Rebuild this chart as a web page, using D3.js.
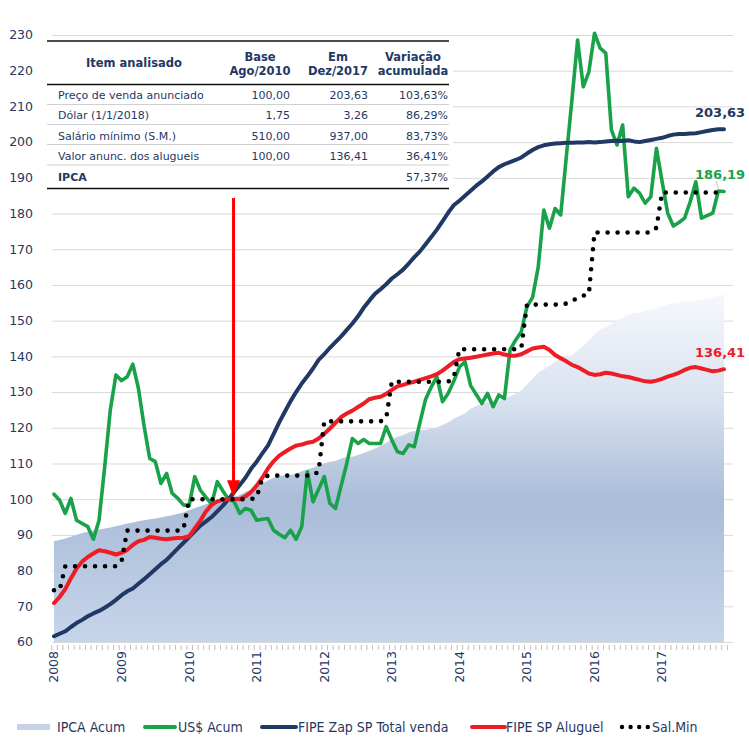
<!DOCTYPE html>
<html><head><meta charset="utf-8">
<script src="https://cdn.jsdelivr.net/npm/d3@7"></script>
<style>body{margin:0;background:#fff}svg{display:block}</style>
</head><body>
<svg id="chart" width="749" height="746"></svg>
<script>
// ---------- DATA ----------
const yearLabels = ["2008","2009","2010","2011","2012","2013","2014","2015","2016","2017"];
const yTicks = [60,70,80,90,100,110,120,130,140,150,160,170,180,190,200,210,220,230];

// monthly, Jan 2008 .. Dec 2017 (120 values)
const ipcaAcum = [
88.2,88.6,89.0,89.5,90.0,90.5,90.9,91.2,91.5,91.8,92.1,92.4,
92.8,93.2,93.5,93.8,94.1,94.4,94.6,94.9,95.2,95.5,95.9,96.3,
96.9,97.5,98.0,98.6,99.1,99.5,99.8,100.0,100.45,101.2,102.0,102.7,
103.5,104.4,105.2,106.0,106.5,106.7,106.8,107.2,107.8,108.3,108.8,109.4,
110.0,110.5,110.7,111.4,111.8,111.9,112.4,112.9,113.5,114.2,114.9,115.8,
116.8,117.5,118.0,118.7,119.1,119.4,119.4,119.7,120.1,120.8,121.5,122.6,
123.3,124.1,125.3,126.1,126.7,127.2,127.2,127.5,128.3,128.8,129.5,130.5,
132.1,133.7,135.5,136.4,137.4,138.5,139.4,139.7,140.4,141.6,143.0,144.4,
146.2,147.5,148.2,149.1,150.2,150.8,151.5,152.2,152.3,152.7,153.0,153.4,
154.0,154.5,154.9,155.1,155.6,155.2,155.6,155.9,156.1,156.5,156.9,157.37];

const usdAcum = [
101.4,99.7,96.0,100.2,94.1,93.2,92.3,88.8,94.1,109,125,134.8,
133.2,134.3,137.8,131,120.5,111.4,110.5,104.4,107.2,101.6,100.2,98.4,
98.2,106.3,102.5,100.5,98.6,104.9,102.3,100,99.3,96,97.4,96.9,
94.1,94.4,94.6,91.3,90.2,89.2,91.3,88.8,92.3,107.7,99.3,102.8,
106.3,98.8,97.4,103.8,110,117,115.6,116.7,115.6,115.6,115.6,120.3,
116.6,113.3,112.8,115.2,114.7,121.5,128,131.4,134.3,127.3,129.6,133,
137,138.5,131.8,129.3,126.8,129.6,125.9,129.2,128.2,141.8,144.6,146.9,
153.9,156.5,165,181,175.9,181.4,179.6,196,212,228.6,215.5,219.7,
230.5,226.3,224.9,203.4,199.2,204.8,184.7,187.1,185.7,182.9,184.7,198.3,
189,180.1,176.5,177.5,178.7,183.3,188.9,178.7,179.4,180.1,186.3,186.19];

const fipeZapVenda = [
61.6,62.3,63.0,64.2,65.3,66.2,67.2,68.0,68.7,69.6,70.6,71.8,
73.1,74.2,75.0,76.3,77.6,79.0,80.4,81.8,83.0,84.6,86.2,87.8,
89.4,91.0,92.6,93.8,95.0,96.6,98.2,100.0,102.0,104.0,106.0,108.5,
110.5,112.8,115.0,118.2,121.5,124.5,127.4,130.0,132.4,134.4,136.6,139.0,
140.6,142.4,144.0,145.6,147.4,149.2,151.2,153.6,155.6,157.5,158.8,160.2,
161.8,163.0,164.3,166.0,167.8,169.4,171.4,173.4,175.5,177.8,180.2,182.3,
183.6,185.0,186.4,187.8,189.0,190.4,191.8,193.0,193.8,194.4,195.0,195.7,
196.8,197.8,198.6,199.1,199.4,199.6,199.7,199.8,199.8,199.9,199.9,200.0,
199.9,200.0,200.2,200.3,200.4,200.3,200.5,200.2,200.0,200.3,200.6,200.9,
201.2,201.7,202.1,202.3,202.3,202.4,202.5,202.8,203.1,203.4,203.6,203.63];

const fipeAluguel = [
70.9,72.6,74.8,77.8,80.6,82.5,83.8,84.8,85.7,85.4,85.0,84.5,
85.0,85.8,87.2,88.2,88.6,89.4,89.2,88.9,88.8,89.0,89.1,89.2,
89.6,91.8,94.0,96.6,98.4,99.4,99.8,100.0,100.1,100.0,100.8,102.0,
103.8,106.0,108.6,110.6,112.2,113.2,114.2,115.0,115.3,115.8,116.1,117.0,
118.3,119.8,121.4,123.0,124.0,124.8,125.8,126.8,128.0,128.4,128.7,129.5,
130.6,131.6,132.0,132.5,132.9,133.4,133.9,134.4,135.0,136.0,137.2,138.4,
139.2,139.4,139.6,139.9,140.2,140.5,140.8,141.0,140.5,140.2,140.2,140.6,
141.4,142.2,142.5,142.7,141.8,140.4,139.5,138.6,137.6,137.0,136.1,135.2,
134.8,135.0,135.4,135.2,134.8,134.4,134.2,133.8,133.4,133.0,132.9,133.2,
133.7,134.3,134.8,135.4,136.2,136.8,137.0,136.6,136.2,135.8,136.0,136.41];

const salMin = [
74.5,74.5,81.2,81.2,81.2,81.2,81.2,81.2,81.2,81.2,81.2,81.2,
82.6,91.2,91.2,91.2,91.2,91.2,91.2,91.2,91.2,91.2,91.2,91.6,
100,100,100,100,100,100,100,100,100,100,100,100,
100.5,105.9,106.6,106.6,106.6,106.6,106.6,106.6,106.6,106.6,106.6,107.8,
121.8,121.8,121.8,121.8,121.8,121.8,121.8,121.8,121.8,121.8,121.8,122.6,
132.9,132.9,132.9,132.9,132.9,132.9,132.9,132.9,132.9,132.9,132.9,134.0,
142,142,142,142,142,142,142,142,142,142,142,142.3,
154.5,154.5,154.5,154.5,154.5,154.5,154.5,154.8,155.6,156.3,157.0,157.5,
174.7,174.7,174.7,174.7,174.7,174.7,174.7,174.7,174.7,174.7,174.7,176.0,
185.9,185.9,185.9,185.9,185.9,185.9,185.9,185.9,185.9,185.9,185.9,185.9];

const seriesNames = ["IPCA Acum","US$ Acum","FIPE Zap SP Total venda","FIPE SP Aluguel","Sal.Min"];
const endLabels = [
  {text:"203,63", value:203.63, color:"#1f3864"},
  {text:"186,19", value:186.19, color:"#19a24a"},
  {text:"136,41", value:136.41, color:"#ee1c24"}
];
const baseMonth = 31; // Ago/2010

const tableHead = [["Item analisado"],["Base","Ago/2010"],["Em","Dez/2017"],["Variação","acumulada"]];
const tableRows = [
  ["Preço de venda anunciado","100,00","203,63","103,63%"],
  ["Dólar (1/1/2018)","1,75","3,26","86,29%"],
  ["Salário mínimo (S.M.)","510,00","937,00","83,73%"],
  ["Valor anunc. dos alugueis","100,00","136,41","36,41%"],
  ["IPCA","","","57,37%"]
];

// ---------- DRAW ----------
const svg = d3.select("#chart");
const FONT = "'DejaVu Sans', Verdana, sans-serif";
const NAVY = "#1f3864", GREEN = "#19a24a", RED = "#ee1c24";

const x = d3.scaleLinear().domain([0,119]).range([54,724]);
const y = d3.scaleLinear().domain([60,230]).range([642,35]);
const idx = d3.range(120);

// gradient for IPCA area
const defs = svg.append("defs");
const g1 = defs.append("linearGradient").attr("id","ipcaGrad")
  .attr("gradientUnits","userSpaceOnUse").attr("x1",0).attr("x2",0).attr("y1",y(158)).attr("y2",y(60));
[[0,"#f6f8fc"],[0.3,"#dae3f0"],[0.6,"#a9bcd8"],[1,"#c7d5ea"]].forEach(s=>
  g1.append("stop").attr("offset",s[0]).attr("stop-color",s[1]));

// grid
svg.append("g").selectAll("line").data(yTicks).join("line")
  .attr("x1",52).attr("x2",733).attr("y1",d=>y(d)+0.5).attr("y2",d=>y(d)+0.5)
  .attr("stroke","#d9d9d9").attr("stroke-width",1);

// y labels
svg.append("g").selectAll("text").data(yTicks).join("text")
  .attr("x",33).attr("y",d=>y(d)).attr("dy","0.35em").attr("text-anchor","end")
  .attr("font-family",FONT).attr("font-size","12.5px").attr("fill",NAVY).text(d=>d);

// IPCA area
svg.append("path").datum(ipcaAcum)
  .attr("d", d3.area().x((d,i)=>x(i)).y0(y(60)).y1(d=>y(d)))
  .attr("fill","url(#ipcaGrad)");

// month ticks
const step = x(1)-x(0);
svg.append("g").selectAll("line").data(d3.range(121)).join("line")
  .attr("x1",d=>x(d)-step/2+0.5).attr("x2",d=>x(d)-step/2+0.5)
  .attr("y1",645).attr("y2",650).attr("stroke","#bfbfbf").attr("stroke-width",1);

// year labels
svg.append("g").selectAll("text").data(yearLabels).join("text")
  .attr("transform",(d,i)=>`translate(${x(i*12)},651) rotate(-90)`)
  .attr("text-anchor","end").attr("dy","0.35em")
  .attr("font-family",FONT).attr("font-size","12.5px").attr("fill",NAVY).text(d=>d);

const line = d3.line().x((d,i)=>x(i)).y(d=>y(d));
function drawLine(data,color,w){
  svg.append("path").datum(data).attr("d",line).attr("fill","none")
    .attr("stroke",color).attr("stroke-width",w).attr("stroke-linejoin","round").attr("stroke-linecap","round");
}
drawLine(usdAcum,GREEN,3.6);
drawLine(fipeZapVenda,NAVY,4);
drawLine(fipeAluguel,RED,4);
svg.append("path").datum(salMin).attr("d",line).attr("fill","none")
  .attr("stroke","#000").attr("stroke-width",4.6).attr("stroke-linecap","round")
  .attr("stroke-dasharray","0,10");

// end labels
svg.append("g").selectAll("text").data(endLabels).join("text")
  .attr("x",695).attr("y",d=>y(d.value)-12)
  .attr("font-family",FONT).attr("font-weight","bold").attr("font-size","13px")
  .attr("fill",d=>d.color).text(d=>d.text);
svg.append("line").attr("x1",716).attr("y1",181).attr("x2",x(118)).attr("y2",y(186.19)-3)
  .attr("stroke","#e8a0a0").attr("stroke-width",0.8);

// arrow at base month
const ax = x(baseMonth)+5;
svg.append("line").attr("x1",ax).attr("x2",ax).attr("y1",198).attr("y2",y(100)-16)
  .attr("stroke","#ff0000").attr("stroke-width",3);
svg.append("path")
  .attr("d",`M${ax-6.5},${y(100)-19} L${ax+6.5},${y(100)-19} L${ax},${y(100)-2} Z`)
  .attr("fill","#ff0000");

// table
const tb = svg.append("g");
tb.append("rect").attr("x",44).attr("y",38).attr("width",409).attr("height",153).attr("fill","#fff");
const colC = [134,260,338,413], valR = [290,368,448];
tableHead.forEach((lines,ci)=>{
  lines.forEach((t,li)=>{
    tb.append("text").attr("x",colC[ci])
      .attr("y", lines.length===1 ? 63 : (li===0?57:71)).attr("dy","0.35em")
      .attr("text-anchor","middle").attr("font-family",FONT).attr("font-weight","bold")
      .attr("font-size","11.5px").attr("fill",NAVY).text(t);
  });
});
const rowY = [95.5,115.5,136,156,177];
tableRows.forEach((r,ri)=>{
  tb.append("text").attr("x",58).attr("y",rowY[ri]).attr("dy","0.35em")
    .attr("font-family",FONT).attr("font-size","11px").attr("fill",NAVY)
    .attr("font-weight", ri===4?"bold":"normal").text(r[0]);
  r.slice(1).forEach((v,vi)=>{
    tb.append("text").attr("x",valR[vi]).attr("y",rowY[ri]).attr("dy","0.35em")
      .attr("text-anchor","end").attr("font-family",FONT).attr("font-size","11px")
      .attr("fill",NAVY).text(v);
  });
});
[104.5,124.5,144.5,165].forEach(yy=>tb.append("line").attr("x1",47).attr("x2",449)
  .attr("y1",yy).attr("y2",yy).attr("stroke","#d0d0d0").attr("stroke-width",1));
[41,84.5,188.5].forEach(yy=>tb.append("line").attr("x1",47).attr("x2",449)
  .attr("y1",yy).attr("y2",yy).attr("stroke","#111").attr("stroke-width",1.6));

// legend
const LFONT = "'DejaVu Sans Condensed','DejaVu Sans',Tahoma,sans-serif";
const ly = 727;
const lg = svg.append("g");
const legendPos = [
  {sx:17, ex:50, tx:57},
  {sx:145, ex:175, tx:178},
  {sx:262, ex:296, tx:298},
  {sx:472, ex:505, tx:506},
  {sx:622, ex:648, tx:652}
];
seriesNames.forEach((name,i)=>{
  const p = legendPos[i];
  if(i===0){
    lg.append("rect").attr("x",p.sx).attr("y",ly-3).attr("width",p.ex-p.sx).attr("height",6).attr("fill","#c6d3e6");
  } else if(i<4){
    lg.append("line").attr("x1",p.sx).attr("x2",p.ex).attr("y1",ly).attr("y2",ly)
      .attr("stroke",[null,GREEN,NAVY,RED][i]).attr("stroke-width",4).attr("stroke-linecap","round");
  } else {
    lg.append("line").attr("x1",p.sx).attr("x2",p.ex).attr("y1",ly).attr("y2",ly)
      .attr("stroke","#000").attr("stroke-width",4.4).attr("stroke-linecap","round").attr("stroke-dasharray","0,8.6");
  }
  lg.append("text").attr("x",p.tx).attr("y",ly).attr("dy","0.36em")
    .attr("font-family",LFONT).attr("font-stretch","condensed").attr("font-size","14px")
    .attr("fill",NAVY).text(name);
});
</script>
</body></html>
